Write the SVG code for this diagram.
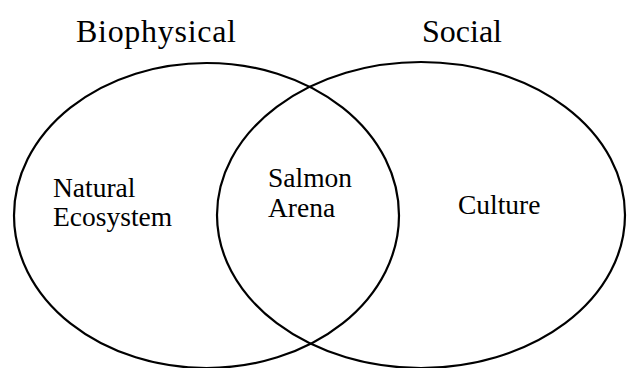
<svg xmlns="http://www.w3.org/2000/svg" width="627" height="368" viewBox="0 0 627 368">
<style>
.set{fill:none;stroke:#000;stroke-width:2.2}
.t{font-family:"Liberation Serif","Times New Roman",serif;fill:#000}
.title{font-size:32px}
.lab{font-size:27.5px}
</style>
<rect width="627" height="368" fill="#fff"/>
<g id="biophysical">
<ellipse class="set" cx="206.5" cy="215.5" rx="192.5" ry="152.5"/>
<text class="t title" x="76" y="42" textLength="160">Biophysical</text>
</g>
<g id="social">
<ellipse class="set" cx="421" cy="215" rx="204" ry="153"/>
<text class="t title" x="422" y="42">Social</text>
</g>
<g id="natural-ecosystem">
<text class="t lab" x="53" y="197">Natural</text>
<text class="t lab" x="53" y="226">Ecosystem</text>
</g>
<g id="salmon-arena">
<text class="t lab" x="268" y="187">Salmon</text>
<text class="t lab" x="268" y="217">Arena</text>
</g>
<g id="culture">
<text class="t lab" x="458" y="214">Culture</text>
</g>
<g id="connectors"></g>
</svg>
